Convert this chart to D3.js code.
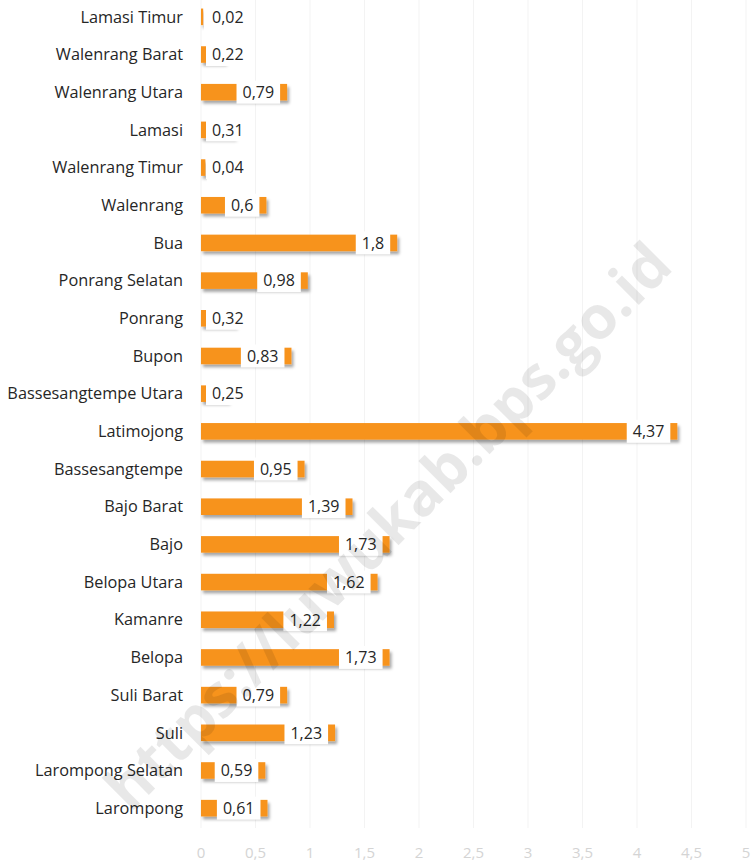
<!DOCTYPE html>
<html>
<head>
  <meta charset="utf-8">
  <title>chart</title>
  <style>
    body { margin: 0; background: #fff; }
    text { font-family: "Open Sans", sans-serif; }
  </style>
</head>
<body>
<script src="https://cdnjs.cloudflare.com/ajax/libs/d3/7.8.5/d3.min.js"></script>
<script>
// districts, top to bottom
const districts = ["Lamasi Timur", "Walenrang Barat", "Walenrang Utara", "Lamasi", "Walenrang Timur",
  "Walenrang", "Bua", "Ponrang Selatan", "Ponrang", "Bupon", "Bassesangtempe Utara", "Latimojong",
  "Bassesangtempe", "Bajo Barat", "Bajo", "Belopa Utara", "Kamanre", "Belopa", "Suli Barat", "Suli",
  "Larompong Selatan", "Larompong"];
const values = [0.02, 0.22, 0.79, 0.31, 0.04, 0.6, 1.8, 0.98, 0.32, 0.83, 0.25, 4.37,
  0.95, 1.39, 1.73, 1.62, 1.22, 1.73, 0.79, 1.23, 0.59, 0.61];
const ticks = [0, 0.5, 1, 1.5, 2, 2.5, 3, 3.5, 4, 4.5, 5];

const width = 754, height = 862;
const orange = "#f7931e";
const fmt = v => String(v).replace(".", ",");

const svg = d3.select("body").append("svg")
  .attr("width", width)
  .attr("height", height);

const defs = svg.append("defs");
defs.append("filter").attr("id", "shadow")
  .attr("x", "-10%").attr("y", "-50%").attr("width", "130%").attr("height", "220%")
  .append("feDropShadow")
  .attr("dx", 2).attr("dy", 3).attr("stdDeviation", 1.6)
  .attr("flood-color", "#000").attr("flood-opacity", 0.35);

const x = d3.scaleLinear().domain([0, 5]).range([201, 746]);
const y = d3.scaleBand().domain(districts).range([-2, 827])
  .paddingInner(0.56).paddingOuter(0.28);

// faint gridlines
svg.append("g").selectAll("line")
  .data(ticks)
  .join("line")
  .attr("x1", d => x(d)).attr("x2", d => x(d))
  .attr("y1", 0).attr("y2", 828)
  .attr("stroke", "#f3f3f3").attr("stroke-width", 1);

// x axis labels
svg.append("g").selectAll("text")
  .data(ticks)
  .join("text")
  .attr("x", d => x(d)).attr("y", 858)
  .attr("text-anchor", "middle")
  .attr("font-size", 15)
  .attr("fill", "#d4d4d4")
  .text(d => fmt(d));

// category labels
svg.append("g").selectAll("text")
  .data(districts)
  .join("text")
  .attr("x", 183)
  .attr("y", d => y(d) + y.bandwidth() / 2)
  .attr("dy", "0.35em")
  .attr("text-anchor", "end")
  .attr("font-size", 16.3)
  .attr("fill", "#262626")
  .text(d => d);

// bars
const rows = districts.map((d, i) => ({ name: d, value: values[i] }));
svg.append("g").selectAll("rect")
  .data(rows)
  .join("rect")
  .attr("x", x(0))
  .attr("y", d => y(d.name))
  .attr("width", d => x(d.value) - x(0))
  .attr("height", y.bandwidth())
  .attr("fill", orange)
  .attr("filter", "url(#shadow)");

// value label boxes
const lab = svg.append("g").selectAll("g")
  .data(rows)
  .join("g");
lab.append("text")
  .attr("font-size", 16)
  .attr("fill", "#262626")
  .attr("y", d => y(d.name) + y.bandwidth() / 2)
  .attr("dy", "0.36em")
  .text(d => fmt(d.value));
lab.each(function (d) {
  const g = d3.select(this);
  const t = g.select("text");
  const tw = t.node().getComputedTextLength();
  const bw = tw + 12, bh = 23;
  const right = Math.max(x(d.value) - 7, x(0) + 5 + bw);
  const left = right - bw;
  g.insert("rect", "text")
    .attr("x", left).attr("y", y(d.name) + y.bandwidth() / 2 - bh / 2)
    .attr("width", bw).attr("height", bh)
    .attr("fill", "#fff");
  t.attr("x", left + 6);
});

// watermark
svg.append("text")
  .attr("transform", "translate(388,526) rotate(-45)")
  .attr("text-anchor", "middle")
  .attr("dy", "0.35em")
  .attr("font-size", 60)
  .attr("font-weight", "bold")
  .attr("font-family", "Liberation Sans, Arial, sans-serif")
  .attr("fill", "#000")
  .attr("fill-opacity", 0.09)
  .text("https://luwukab.bps.go.id");
</script>
</body>
</html>
